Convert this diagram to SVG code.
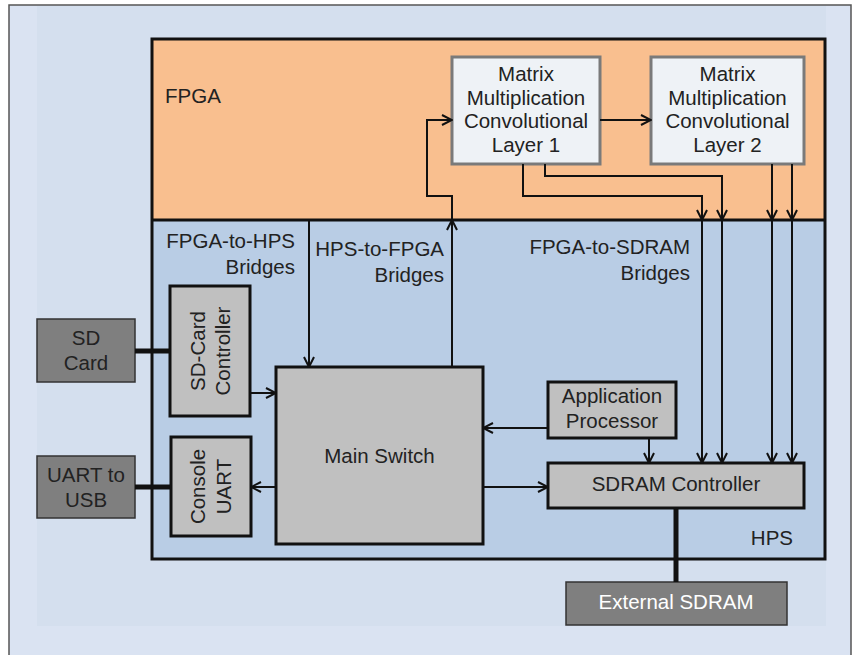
<svg xmlns="http://www.w3.org/2000/svg" width="858" height="655" viewBox="0 0 858 655">
<defs>
<style>
text{font-family:"Liberation Sans",Arial,sans-serif;font-size:20.5px;fill:#222}
.c{text-anchor:middle}
.r{text-anchor:end}
.box{fill:#c0c0c0;stroke:#111;stroke-width:3}
.dark{fill:#7f7f7f;stroke:#333;stroke-width:1.5}
.mat{fill:#eef2f6;stroke:#7a7a7a;stroke-width:3}
.ln{fill:none;stroke:#111;stroke-width:2}
.thick{fill:none;stroke:#111;stroke-width:5}
</style>
<marker id="ah" viewBox="0 0 12 12" refX="11" refY="6" markerWidth="12" markerHeight="12" markerUnits="userSpaceOnUse" orient="auto">
<path d="M1,1 L11,6 L1,11" fill="none" stroke="#111" stroke-width="2"/>
</marker>
</defs>
<rect x="9" y="5" width="842" height="680" fill="#dae3f2" stroke="#555" stroke-width="1.5"/>
<rect x="37" y="6" width="789" height="620" fill="#d4dfee"/>
<g id="fpga">
<rect x="152" y="39" width="673" height="181" fill="#f9bf8f"/>
<text x="165" y="103">FPGA</text>
</g>
<g id="hps">
<rect x="152" y="220" width="673" height="339" fill="#b9cde5"/>
<text class="r" x="793" y="545">HPS</text>
</g>
<rect x="152" y="39" width="673" height="520" fill="none" stroke="#111" stroke-width="3"/>
<line x1="152" y1="220" x2="825" y2="220" stroke="#111" stroke-width="3"/>
<g id="labels">
<text class="r" x="295" y="248">FPGA-to-HPS</text>
<text class="r" x="295" y="274">Bridges</text>
<text class="r" x="444" y="256">HPS-to-FPGA</text>
<text class="r" x="444" y="282">Bridges</text>
<text class="r" x="690" y="254">FPGA-to-SDRAM</text>
<text class="r" x="690" y="280">Bridges</text>
</g>
<g id="matrix1">
<rect class="mat" x="452" y="57" width="148" height="107"/>
<text class="c" x="526" y="81">Matrix</text>
<text class="c" x="526" y="105">Multiplication</text>
<text class="c" x="526" y="128">Convolutional</text>
<text class="c" x="526" y="152">Layer 1</text>
</g>
<g id="matrix2">
<rect class="mat" x="651" y="57" width="153" height="107"/>
<text class="c" x="727.5" y="81">Matrix</text>
<text class="c" x="727.5" y="105">Multiplication</text>
<text class="c" x="727.5" y="128">Convolutional</text>
<text class="c" x="727.5" y="152">Layer 2</text>
</g>
<g id="sdcard">
<rect class="dark" x="37" y="319" width="98" height="63"/>
<text class="c" x="86" y="345">SD</text>
<text class="c" x="86" y="370">Card</text>
</g>
<g id="uartusb">
<rect class="dark" x="37" y="456" width="98" height="62"/>
<text class="c" x="86" y="482">UART to</text>
<text class="c" x="86" y="507">USB</text>
</g>
<g id="sdctrl">
<rect class="box" x="170" y="286" width="80" height="130"/>
<text class="c" transform="translate(205,351) rotate(-90)">SD-Card</text>
<text class="c" transform="translate(230,351) rotate(-90)">Controller</text>
</g>
<g id="console">
<rect class="box" x="171" y="437" width="80" height="99"/>
<text class="c" transform="translate(205,486.5) rotate(-90)">Console</text>
<text class="c" transform="translate(231,486.5) rotate(-90)">UART</text>
</g>
<g id="mainswitch">
<rect class="box" x="276" y="367" width="207" height="177"/>
<text class="c" x="379.5" y="463">Main Switch</text>
</g>
<g id="appproc">
<rect class="box" x="548" y="382" width="128" height="56"/>
<text class="c" x="612" y="403">Application</text>
<text class="c" x="612" y="428">Processor</text>
</g>
<g id="sdramctrl">
<rect class="box" x="548" y="463" width="256" height="45"/>
<text class="c" x="676" y="491">SDRAM Controller</text>
</g>
<g id="extsdram">
<rect class="dark" x="566" y="582" width="221" height="43"/>
<text class="c" x="676" y="609" style="fill:#fff">External SDRAM</text>
</g>
<g id="connectors">
<path class="thick" d="M135,351 H170"/>
<path class="thick" d="M135,487 H171"/>
<path class="thick" d="M676,508 V582"/>
<path class="ln" d="M250,393 H276" marker-end="url(#ah)"/>
<path class="ln" d="M276,487 H251" marker-end="url(#ah)"/>
<path class="ln" d="M309,220 V367" marker-end="url(#ah)"/>
<path class="ln" d="M452,367 V220" marker-end="url(#ah)"/>
<path class="ln" d="M452,220 V196 H427 V120 H452" marker-end="url(#ah)"/>
<path class="ln" d="M600,120 H651" marker-end="url(#ah)"/>
<path class="ln" d="M523,164 V196 H702 V220" marker-end="url(#ah)"/>
<path class="ln" d="M702,220 V463" marker-end="url(#ah)"/>
<path class="ln" d="M545,164 V176 H722 V220" marker-end="url(#ah)"/>
<path class="ln" d="M722,220 V463" marker-end="url(#ah)"/>
<path class="ln" d="M772,164 V220" marker-end="url(#ah)"/>
<path class="ln" d="M772,220 V463" marker-end="url(#ah)"/>
<path class="ln" d="M792,164 V220" marker-end="url(#ah)"/>
<path class="ln" d="M792,220 V463" marker-end="url(#ah)"/>
<path class="ln" d="M548,428 H483" marker-end="url(#ah)"/>
<path class="ln" d="M649,438 V463" marker-end="url(#ah)"/>
<path class="ln" d="M483,487 H548" marker-end="url(#ah)"/>
</g>
</svg>
